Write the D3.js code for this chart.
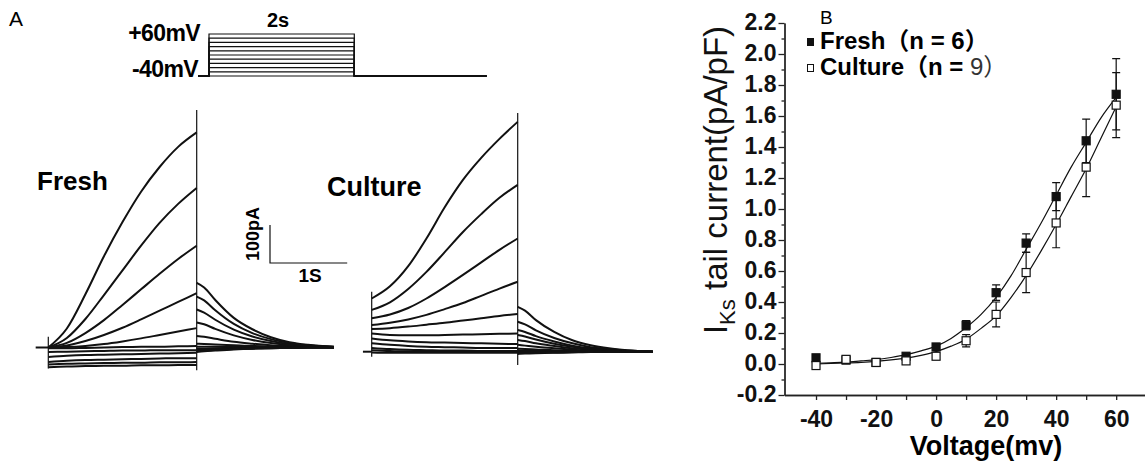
<!DOCTYPE html>
<html>
<head>
<meta charset="utf-8">
<script src="https://cdnjs.cloudflare.com/ajax/libs/d3/7.8.5/d3.min.js"></script>
<style>
body { margin: 0; background: #fff; }
svg { display: block; font-family: "Liberation Sans", Arial, "Noto Sans CJK SC", sans-serif; }
.trace { fill: none; stroke: #111; stroke-width: 2; stroke-linejoin: round; }
.thin { fill: none; stroke: #111; stroke-width: 1.2; }
.axis path, .axis line { stroke: #222; stroke-width: 1.3; }
.axis text { font-weight: bold; font-size: 23px; fill: #111; font-family: "Liberation Sans", Arial, sans-serif; }
</style>
</head>
<body>
<div id="chart"></div>
<script>
// ---------- Panel A data ----------
// step potentials of the protocol (mV)
var stepMv = [-40, -30, -20, -10, 0, 10, 20, 30, 40, 50, 60];
// sample times (s) for the step part and the tail part of each trace
var tStep = [0, 0.25, 0.5, 0.75, 1.0, 1.25, 1.5, 1.75, 2.0];
var tTail = [2.0, 2.1, 2.25, 2.5, 2.75, 3.0, 3.25, 3.5, 3.85];

// Fresh currents (pA), largest trace first
var freshStep = [
    [0, 50, 140, 240, 330, 410, 475, 528, 566],
    [0, 25, 75, 138, 203, 268, 328, 378, 420],
    [0, 12, 38, 72, 112, 153, 194, 233, 268],
    [0, 5, 17, 33, 52, 74, 97, 120, 143],
    [0, 1, 4, 9, 16, 24, 33, 42, 51],
    [-2, -2, -1, 0, 1, 2, 2, 3, 4],
    [-12, -11, -10, -9, -8, -8, -7, -7, -7],
    [-25, -22, -20, -19, -18, -17, -16, -15, -14],
    [-38, -35, -33, -32, -31, -30, -29, -28, -28],
    [-45, -43, -42, -41, -40, -40, -39, -39, -38],
    [-52, -50, -49, -48, -48, -47, -47, -46, -46]
];
var freshTail = [
    [170, 158, 125, 78, 48, 27, 14, 7, 2],
    [134, 124, 98, 62, 38, 22, 12, 6, 2],
    [100, 92, 73, 47, 29, 17, 9, 5, 1],
    [66, 61, 49, 32, 20, 12, 7, 4, 1],
    [30, 28, 23, 15, 10, 6, 4, 2, 1],
    [10, 9, 8, 6, 4, 3, 2, 1, 0],
    [2, 2, 2, 1, 1, 1, 0, 0, 0],
    [-3, -3, -2, -2, -1, -1, 0, 0, 0],
    [-6, -5, -4, -3, -2, -1, -1, 0, 0],
    [-9, -8, -6, -4, -3, -2, -1, 0, 0],
    [-12, -10, -8, -5, -3, -2, -1, 0, 0]
];
// capacitive transients [time, low, high] (pA)
var freshSpikes = [[0, -55, 28], [2, -60, 625]];

// Culture currents (pA)
var cultureStep = [
    [140, 172, 225, 298, 380, 452, 510, 560, 605],
    [110, 130, 165, 210, 262, 315, 362, 405, 439],
    [88, 98, 115, 140, 170, 202, 235, 268, 298],
    [70, 76, 85, 97, 112, 128, 147, 166, 184],
    [60, 62, 66, 71, 76, 82, 88, 94, 99],
    [48, 44, 43, 43, 44, 45, 46, 47, 48],
    [35, 30, 27, 25, 24, 23, 22, 21, 20],
    [22, 18, 15, 13, 12, 11, 10, 10, 10],
    [10, 7, 5, 4, 3, 3, 2, 2, 2],
    [4, 2, 1, 0, 0, 0, 0, 0, 0],
    [-2, -3, -3, -3, -3, -3, -3, -3, -3]
];
var cultureTail = [
    [118, 108, 83, 52, 30, 17, 9, 4, 0],
    [79, 72, 56, 36, 22, 12, 7, 3, 0],
    [57, 52, 41, 27, 16, 9, 5, 2, 0],
    [44, 40, 32, 21, 13, 7, 4, 2, 0],
    [31, 28, 22, 15, 9, 5, 3, 1, 0],
    [18, 16, 13, 9, 5, 3, 2, 1, 0],
    [8, 7, 6, 4, 3, 2, 1, 0, 0],
    [3, 3, 2, 2, 1, 1, 0, 0, 0],
    [0, 0, 0, 0, 0, 0, 0, 0, 0],
    [-3, -3, -2, -2, -1, -1, 0, 0, 0],
    [-6, -5, -4, -3, -2, -1, -1, 0, 0]
];
var cultureSpikes = [[0, -13, 158], [2, -35, 628]];

// ---------- Panel B data ----------
var voltages = [-40, -30, -20, -10, 0, 10, 20, 30, 40, 50, 60];
var freshMean = [0.04, 0.025, 0.01, 0.05, 0.11, 0.25, 0.46, 0.78, 1.08, 1.44, 1.74];
var freshErr = [0.02, 0.01, 0.01, 0.01, 0.02, 0.03, 0.05, 0.06, 0.09, 0.14, 0.23];
var cultureMean = [-0.01, 0.03, 0.01, 0.02, 0.05, 0.15, 0.32, 0.59, 0.91, 1.27, 1.67];
var cultureErr = [0.01, 0.01, 0.01, 0.01, 0.02, 0.04, 0.08, 0.13, 0.16, 0.19, 0.21];
// fitted curves
var fitV = [-40, -35, -30, -25, -20, -15, -10, -5, 0, 5, 10, 15, 20, 25, 30, 35, 40, 45, 50, 55, 60];
var fitFresh = [0.005, 0.008, 0.012, 0.02, 0.028, 0.042, 0.06, 0.085, 0.115, 0.165, 0.235, 0.32, 0.43, 0.57, 0.74, 0.91, 1.09, 1.27, 1.43, 1.59, 1.72];
var fitCulture = [0.0, 0.004, 0.007, 0.011, 0.017, 0.026, 0.038, 0.056, 0.08, 0.115, 0.16, 0.23, 0.31, 0.43, 0.57, 0.73, 0.9, 1.08, 1.26, 1.46, 1.66];
var yTicks = [-0.2, 0, 0.2, 0.4, 0.6, 0.8, 1.0, 1.2, 1.4, 1.6, 1.8, 2.0, 2.2];
var xTicks = [-40, -20, 0, 20, 40, 60];

var svg = d3.select("#chart").append("svg")
    .attr("width", 1145)
    .attr("height", 461);

svg.append("rect").attr("width", 1145).attr("height", 461).attr("fill", "#fff");

// ================= Panel A =================
svg.append("text").attr("x", 9).attr("y", 26)
    .attr("font-size", 21).text("A");

// Voltage protocol
var pX = d3.scaleLinear().domain([0, 2]).range([209, 354.3]);
var pY = d3.scaleLinear().domain([-40, 60]).range([76, 34]);
var protoLine = d3.line().x(function(d) { return pX(d[0]); }).y(function(d) { return pY(d[1]); });
var proto = svg.append("g");
stepMv.forEach(function(v) {
    proto.append("path")
        .attr("class", "thin")
        .attr("stroke-width", 1)
        .attr("d", protoLine([[-0.15, -40], [0, -40], [0, v], [2, v], [2, -40], [3.82, -40]]));
});
proto.append("text").attr("x", 200).attr("y", 41).attr("text-anchor", "end")
    .attr("font-weight", "bold").attr("font-size", 23).attr("letter-spacing", -0.6).text("+60mV");
proto.append("text").attr("x", 198).attr("y", 77).attr("text-anchor", "end")
    .attr("font-weight", "bold").attr("font-size", 23).attr("letter-spacing", -0.6).text("-40mV");
proto.append("text").attr("x", pX(0.95)).attr("y", 27).attr("text-anchor", "middle")
    .attr("font-weight", "bold").attr("font-size", 20).text("2s");

// Current traces
function drawTraces(g, x, y, steps, tails, spikes, tPre) {
    var line = d3.line()
        .x(function(d) { return x(d[0]); })
        .y(function(d) { return y(d[1]); })
        .curve(d3.curveMonotoneX);
    // holding current before the step
    g.append("path").attr("class", "trace")
        .attr("d", d3.line()([[x(tPre), y(0)], [x(0), y(0)]]));
    steps.forEach(function(s, i) {
        g.append("path").attr("class", "trace")
            .attr("d", line(tStep.map(function(t, j) { return [t, s[j]]; })));
        g.append("path").attr("class", "trace")
            .attr("d", line(tTail.map(function(t, j) { return [t, tails[i][j]]; })));
    });
    spikes.forEach(function(s) {
        g.append("line").attr("class", "thin")
            .attr("x1", x(s[0])).attr("x2", x(s[0]))
            .attr("y1", y(s[1])).attr("y2", y(s[2]));
    });
}

var fX = d3.scaleLinear().domain([0, 2]).range([48.3, 196.7]);
var fY = d3.scaleLinear().domain([0, 100]).range([347.5, 309.5]);
drawTraces(svg.append("g"), fX, fY, freshStep, freshTail, freshSpikes, -0.17);

var cX = d3.scaleLinear().domain([0, 2]).range([371.7, 517.7]);
var cY = d3.scaleLinear().domain([0, 100]).range([351.7, 313.7]);
drawTraces(svg.append("g"), cX, cY, cultureStep, cultureTail, cultureSpikes, -0.12);

svg.append("text").attr("x", 37).attr("y", 190)
    .attr("font-weight", "bold").attr("font-size", 26).text("Fresh");
svg.append("text").attr("x", 327).attr("y", 196)
    .attr("font-weight", "bold").attr("font-size", 27).text("Culture");

// Scale bar: 100 pA and 1 s
var sbX = 270, sbY = 263;
svg.append("path").attr("class", "thin")
    .attr("d", d3.line()([
        [sbX, sbY - (fY(0) - fY(100))],
        [sbX, sbY],
        [sbX + (fX(1) - fX(0)) + 3, sbY]
    ]));
svg.append("text")
    .attr("transform", "translate(259,234) rotate(-90)")
    .attr("text-anchor", "middle")
    .attr("font-weight", "bold").attr("font-size", 18).text("100pA");
svg.append("text").attr("x", 310).attr("y", 282).attr("text-anchor", "middle")
    .attr("font-weight", "bold").attr("font-size", 19).text("1S");

// ================= Panel B =================
svg.append("text").attr("x", 820).attr("y", 24)
    .attr("font-size", 19).text("B");

var x = d3.scaleLinear().domain([-50.5, 69.6]).range([784.5, 1145]);
var y = d3.scaleLinear().domain([-0.2, 2.2]).range([395, 23]);

// Minor ticks
svg.append("g").attr("class", "axis")
    .attr("transform", "translate(784.5,0)")
    .call(d3.axisLeft(y).tickValues(d3.range(-0.1, 2.2, 0.2)).tickSize(3).tickSizeOuter(0).tickFormat(""));
svg.append("g").attr("class", "axis")
    .attr("transform", "translate(0,395)")
    .call(d3.axisBottom(x).tickValues([-30, -10, 10, 30, 50]).tickSize(5).tickSizeOuter(0).tickFormat(""));

// Add the Y Axis
svg.append("g").attr("class", "axis")
    .attr("transform", "translate(784.5,0)")
    .call(d3.axisLeft(y).tickValues(yTicks).tickSize(6).tickSizeOuter(0)
        .tickFormat(function(d) { return d.toFixed(1); }))
    .selectAll("text").attr("dx", "1").attr("dy", "0.3em");

// Add the X Axis
svg.append("g").attr("class", "axis")
    .attr("transform", "translate(0,395)")
    .call(d3.axisBottom(x).tickValues(xTicks).tickSize(5).tickSizeOuter(0)
        .tickFormat(function(d) { return String(d); }))
    .selectAll("text").attr("dy", "1.05em");

svg.selectAll(".axis .domain").attr("stroke-width", 1.4);

// Axis titles
svg.append("text").attr("x", 986).attr("y", 455).attr("text-anchor", "middle")
    .attr("font-weight", "bold").attr("font-size", 27).text("Voltage(mv)");

var yl = svg.append("text")
    .attr("transform", "translate(727,180) rotate(-90)")
    .attr("text-anchor", "middle")
    .attr("font-size", 33).attr("fill", "#111");
yl.append("tspan").text("I");
yl.append("tspan").attr("font-size", 22).attr("dy", 8).text("Ks");
yl.append("tspan").attr("dy", -8).text(" tail current(pA/pF)");

// Fitted curves
var fitLine = d3.line()
    .x(function(d) { return x(d[0]); })
    .y(function(d) { return y(d[1]); })
    .curve(d3.curveMonotoneX);
svg.append("path").attr("class", "thin").attr("stroke-width", 1.3)
    .attr("d", fitLine(fitV.map(function(v, i) { return [v, fitFresh[i]]; })));
svg.append("path").attr("class", "thin").attr("stroke-width", 1.3)
    .attr("d", fitLine(fitV.map(function(v, i) { return [v, fitCulture[i]]; })));

// Error bars and markers
function drawSeries(mean, err, filled) {
    var g = svg.append("g");
    voltages.forEach(function(v, i) {
        var cx = x(v), hi = y(mean[i] + err[i]), lo = y(mean[i] - err[i]);
        g.append("path").attr("class", "thin").attr("stroke-width", 1.1)
            .attr("d", d3.line()([[cx, hi], [cx, lo]]) + d3.line()([[cx - 4, hi], [cx + 4, hi]]) +
                d3.line()([[cx - 4, lo], [cx + 4, lo]]));
        g.append("rect")
            .attr("x", cx - 4).attr("y", y(mean[i]) - 4)
            .attr("width", 8).attr("height", 8)
            .attr("fill", filled ? "#111" : "#fff")
            .attr("stroke", "#111").attr("stroke-width", 1.2);
    });
}
drawSeries(freshMean, freshErr, true);
drawSeries(cultureMean, cultureErr, false);

// Legend
svg.append("rect").attr("x", 807).attr("y", 38).attr("width", 7).attr("height", 8)
    .attr("fill", "#111");
svg.append("rect").attr("x", 807.5).attr("y", 64.5).attr("width", 6).attr("height", 7)
    .attr("fill", "#fff").attr("stroke", "#111").attr("stroke-width", 1);
svg.append("text").attr("x", 820).attr("y", 49)
    .attr("font-weight", "bold").attr("font-size", 24).text("Fresh（n = 6）");
var lc = svg.append("text").attr("x", 820).attr("y", 75).attr("font-size", 24);
lc.append("tspan").attr("font-weight", "bold").text("Culture（n = ");
lc.append("tspan").attr("font-weight", "normal").attr("fill", "#333").text("9）");
</script>
</body>
</html>
